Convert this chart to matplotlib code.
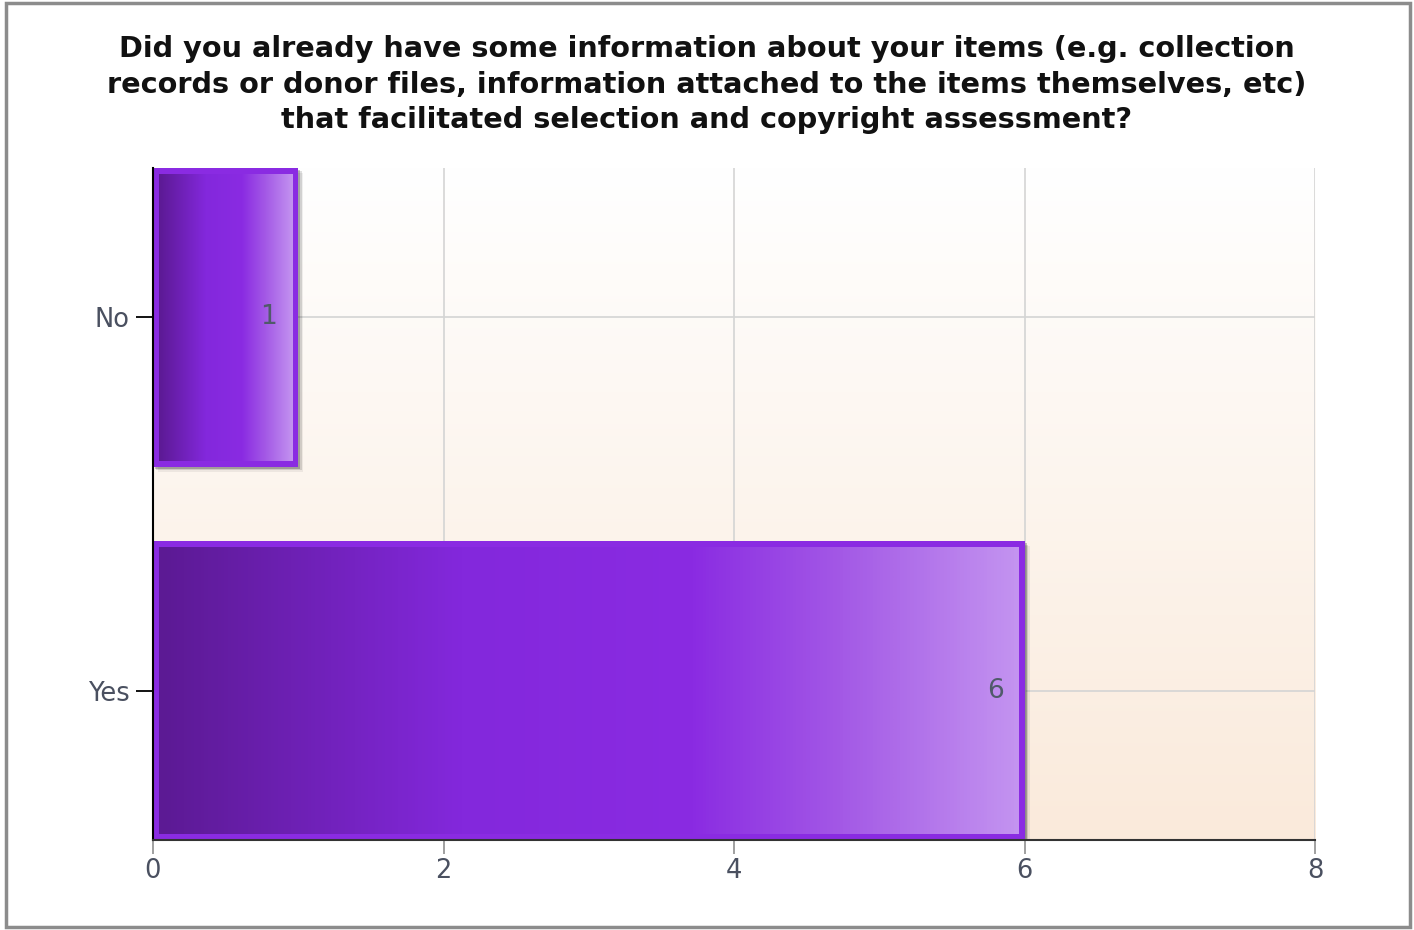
import numpy as np
import matplotlib
matplotlib.use("Agg")
import matplotlib.pyplot as plt
from matplotlib.colors import LinearSegmentedColormap
from matplotlib.patches import Rectangle

categories = ["Yes", "No"]
values = [6, 1]
x_ticks = [0, 2, 4, 6, 8]
title = ("Did you already have some information about your items (e.g. collection\n"
         "records or donor files, information attached to the items themselves, etc)\n"
         "that facilitated selection and copyright assessment?")

plt.rcParams['font.family'] = ['DejaVu Sans']

fig = plt.figure(figsize=(14.14, 9.30), dpi=100)
fig.patch.set_facecolor("white")
# outer frame
fig.add_artist(Rectangle((0.004, 0.003), 0.993, 0.994, transform=fig.transFigure,
                         fill=False, edgecolor="#8c8c8c", linewidth=2.5))

ax = fig.add_axes([0.1082, 0.0968, 0.8218, 0.7226])

# background gradient
bg = LinearSegmentedColormap.from_list("bg", ["#faeadb", "#ffffff"])
ax.imshow(np.linspace(0, 1, 256).reshape(-1, 1), cmap=bg, aspect="auto",
          extent=[0, 1, 0, 1], transform=ax.transAxes, zorder=0, origin="lower")

bars = ax.barh(range(len(categories)), values, height=0.8, color="#8a2be2",
               edgecolor="none", zorder=3)

grad = LinearSegmentedColormap.from_list(
    "bar", [(0.0, "#5c1a94"), (0.35, "#8328dc"), (0.62, "#8a2be2"),
            (0.8, "#a45ae6"), (1.0, "#c393f0")])

ax.set_xlim(0, 8)
ax.set_ylim(-0.4, 1.4)

# pixel/data conversions
fig.canvas.draw()
inv = ax.transData.inverted()
def dx(px):
    return (inv.transform((px, 0))[0] - inv.transform((0, 0))[0])
def dy(px):
    return (inv.transform((0, px))[1] - inv.transform((0, 0))[1])

for rect, v in zip(bars, values):
    x0, y0 = rect.get_x(), rect.get_y()
    w, h = rect.get_width(), rect.get_height()
    # shadow
    for i, a in enumerate([0.22, 0.12, 0.06]):
        s = 2 + i * 1.5
        ax.add_patch(Rectangle((x0 + dx(s), y0 - dy(s)), w, h, facecolor="#000000",
                               alpha=a, edgecolor="none", zorder=2))
    ins_x, ins_y = dx(6), dy(6)
    ax.imshow(np.linspace(0, 1, 256).reshape(1, -1), cmap=grad, aspect="auto",
              extent=[x0 + ins_x, x0 + w - ins_x, y0 + ins_y, y0 + h - ins_y],
              zorder=4, interpolation="bilinear")
    ax.text(x0 + w - dx(21), y0 + h / 2, str(v), ha="right", va="center",
            fontsize=19, color="#505a6a", zorder=5)

ax.set_xlim(0, 8)
ax.set_ylim(-0.4, 1.4)

ax.set_xticks(x_ticks)
ax.set_yticks(range(len(categories)))
ax.set_yticklabels(categories)
ax.grid(True, color="#d4d4d4", linewidth=1.2, zorder=1)
ax.set_axisbelow(True)

for s in ["top", "right"]:
    ax.spines[s].set_visible(False)
ax.spines["left"].set_color("#000000")
ax.spines["left"].set_linewidth(1.5)
ax.spines["bottom"].set_color("#333333")
ax.spines["bottom"].set_linewidth(1.5)
ax.spines["left"].set_zorder(6)
ax.spines["bottom"].set_zorder(6)

ax.tick_params(axis="y", length=12, width=1.3, color="#000000", labelsize=18.5,
               labelcolor="#4a5060", pad=5)
ax.tick_params(axis="x", length=10, width=1.3, color="#999999", labelsize=18.5,
               labelcolor="#4a5060", pad=3)

fig.text(0.5, 0.962, title, ha="center", va="top", fontsize=20.7, fontweight="bold",
         color="#111111", linespacing=1.34)

fig.savefig("out.png", dpi=100, facecolor="white")
